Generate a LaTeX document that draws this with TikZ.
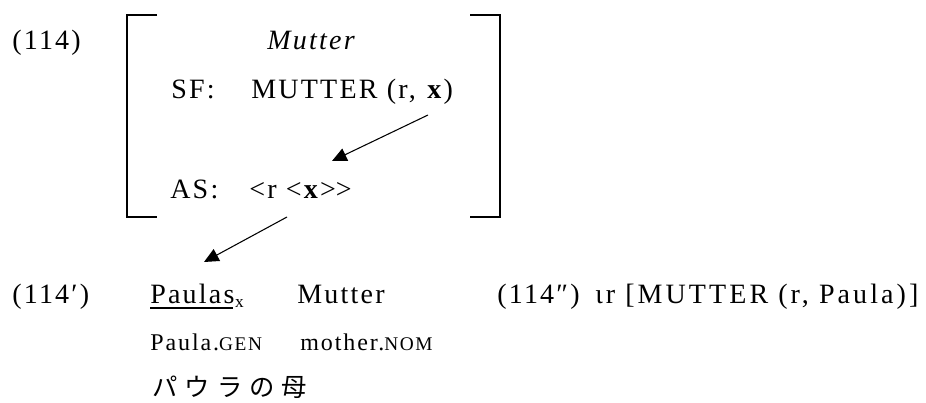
\documentclass[tikz,border=0pt]{standalone}
\usepackage{fontspec}
\setmainfont{Liberation Serif}[LetterSpace=8]
\newfontfamily\jpfont{Noto Sans CJK JP}[LetterSpace=28]
\usetikzlibrary{arrows.meta}
\tikzset{gl/.style={anchor=base west,inner sep=0pt,font=\fontsize{21}{24}\selectfont}, glsmall/.style={gl,font=\fontsize{18}{20}\selectfont}, brk/.style={line width=1.4pt}, link/.style={line width=0.8pt,-{Triangle[length=11pt,width=10pt]}}}
\newcommand{\gcase}[1]{{\fontsize{14.5}{16}\selectfont #1}}

\begin{document}
\begin{tikzpicture}[x=0.75pt,y=-0.75pt]
\useasboundingbox (0,0) rectangle (926,403);
\node[gl] (ex) at (12,50) {(114)};
\node[gl,anchor=base,font=\fontsize{21}{24}\selectfont\itshape] (lemma) at (311,50) {Mutter};
\node[gl] (sf) at (171,99) {SF:};
\node[gl] (sfterm) at (251,99) {MUTTER (r, \textbf{x})};
\node[gl] (as) at (170,199) {AS:};
\node[gl] (asterm) at (249,199) {<r <\textbf{x}>\kern0pt>};
\draw[brk] (157,15) -| (127,217) -- (157,217);
\draw[brk] (470,15) -| (500,217) -- (470,217);
\coordinate (sfx) at (428,115);
\coordinate (asx) at (332,161);
\coordinate (asout) at (287,217);
\coordinate (pin) at (204,262);
\draw[link] (sfx) -- (asx);
\draw[link] (asout) -- (pin);
\node[gl] (ex1) at (12,303) {(114′)};
\node[gl] (paulas) at (150,303) {Paulas};
\node[gl,font=\fontsize{13}{15}\selectfont] (px) at ([yshift=-3pt]paulas.base east) {x};
\draw[line width=1.3pt] ([yshift=-4pt]paulas.base west) -- ([xshift=-1.7pt,yshift=-4pt]paulas.base east);
\node[gl] (mutter) at (297,303) {Mutter};
\node[gl] (ex2) at (497,303) {(114″)};
\node[gl] (iota) at (595,303) {\addfontfeature{LetterSpace=11}ιr [MUTTER (r, Paula)]};
\node[glsmall] (gen) at (150,350) {Paula.\gcase{GEN}};
\node[glsmall] (nom) at (300,350) {mother.\gcase{NOM}};
\node[gl,font=\fontsize{19}{21}\selectfont\jpfont] (jp) at (152,396) {パウラの母};
\end{tikzpicture}
\end{document}
